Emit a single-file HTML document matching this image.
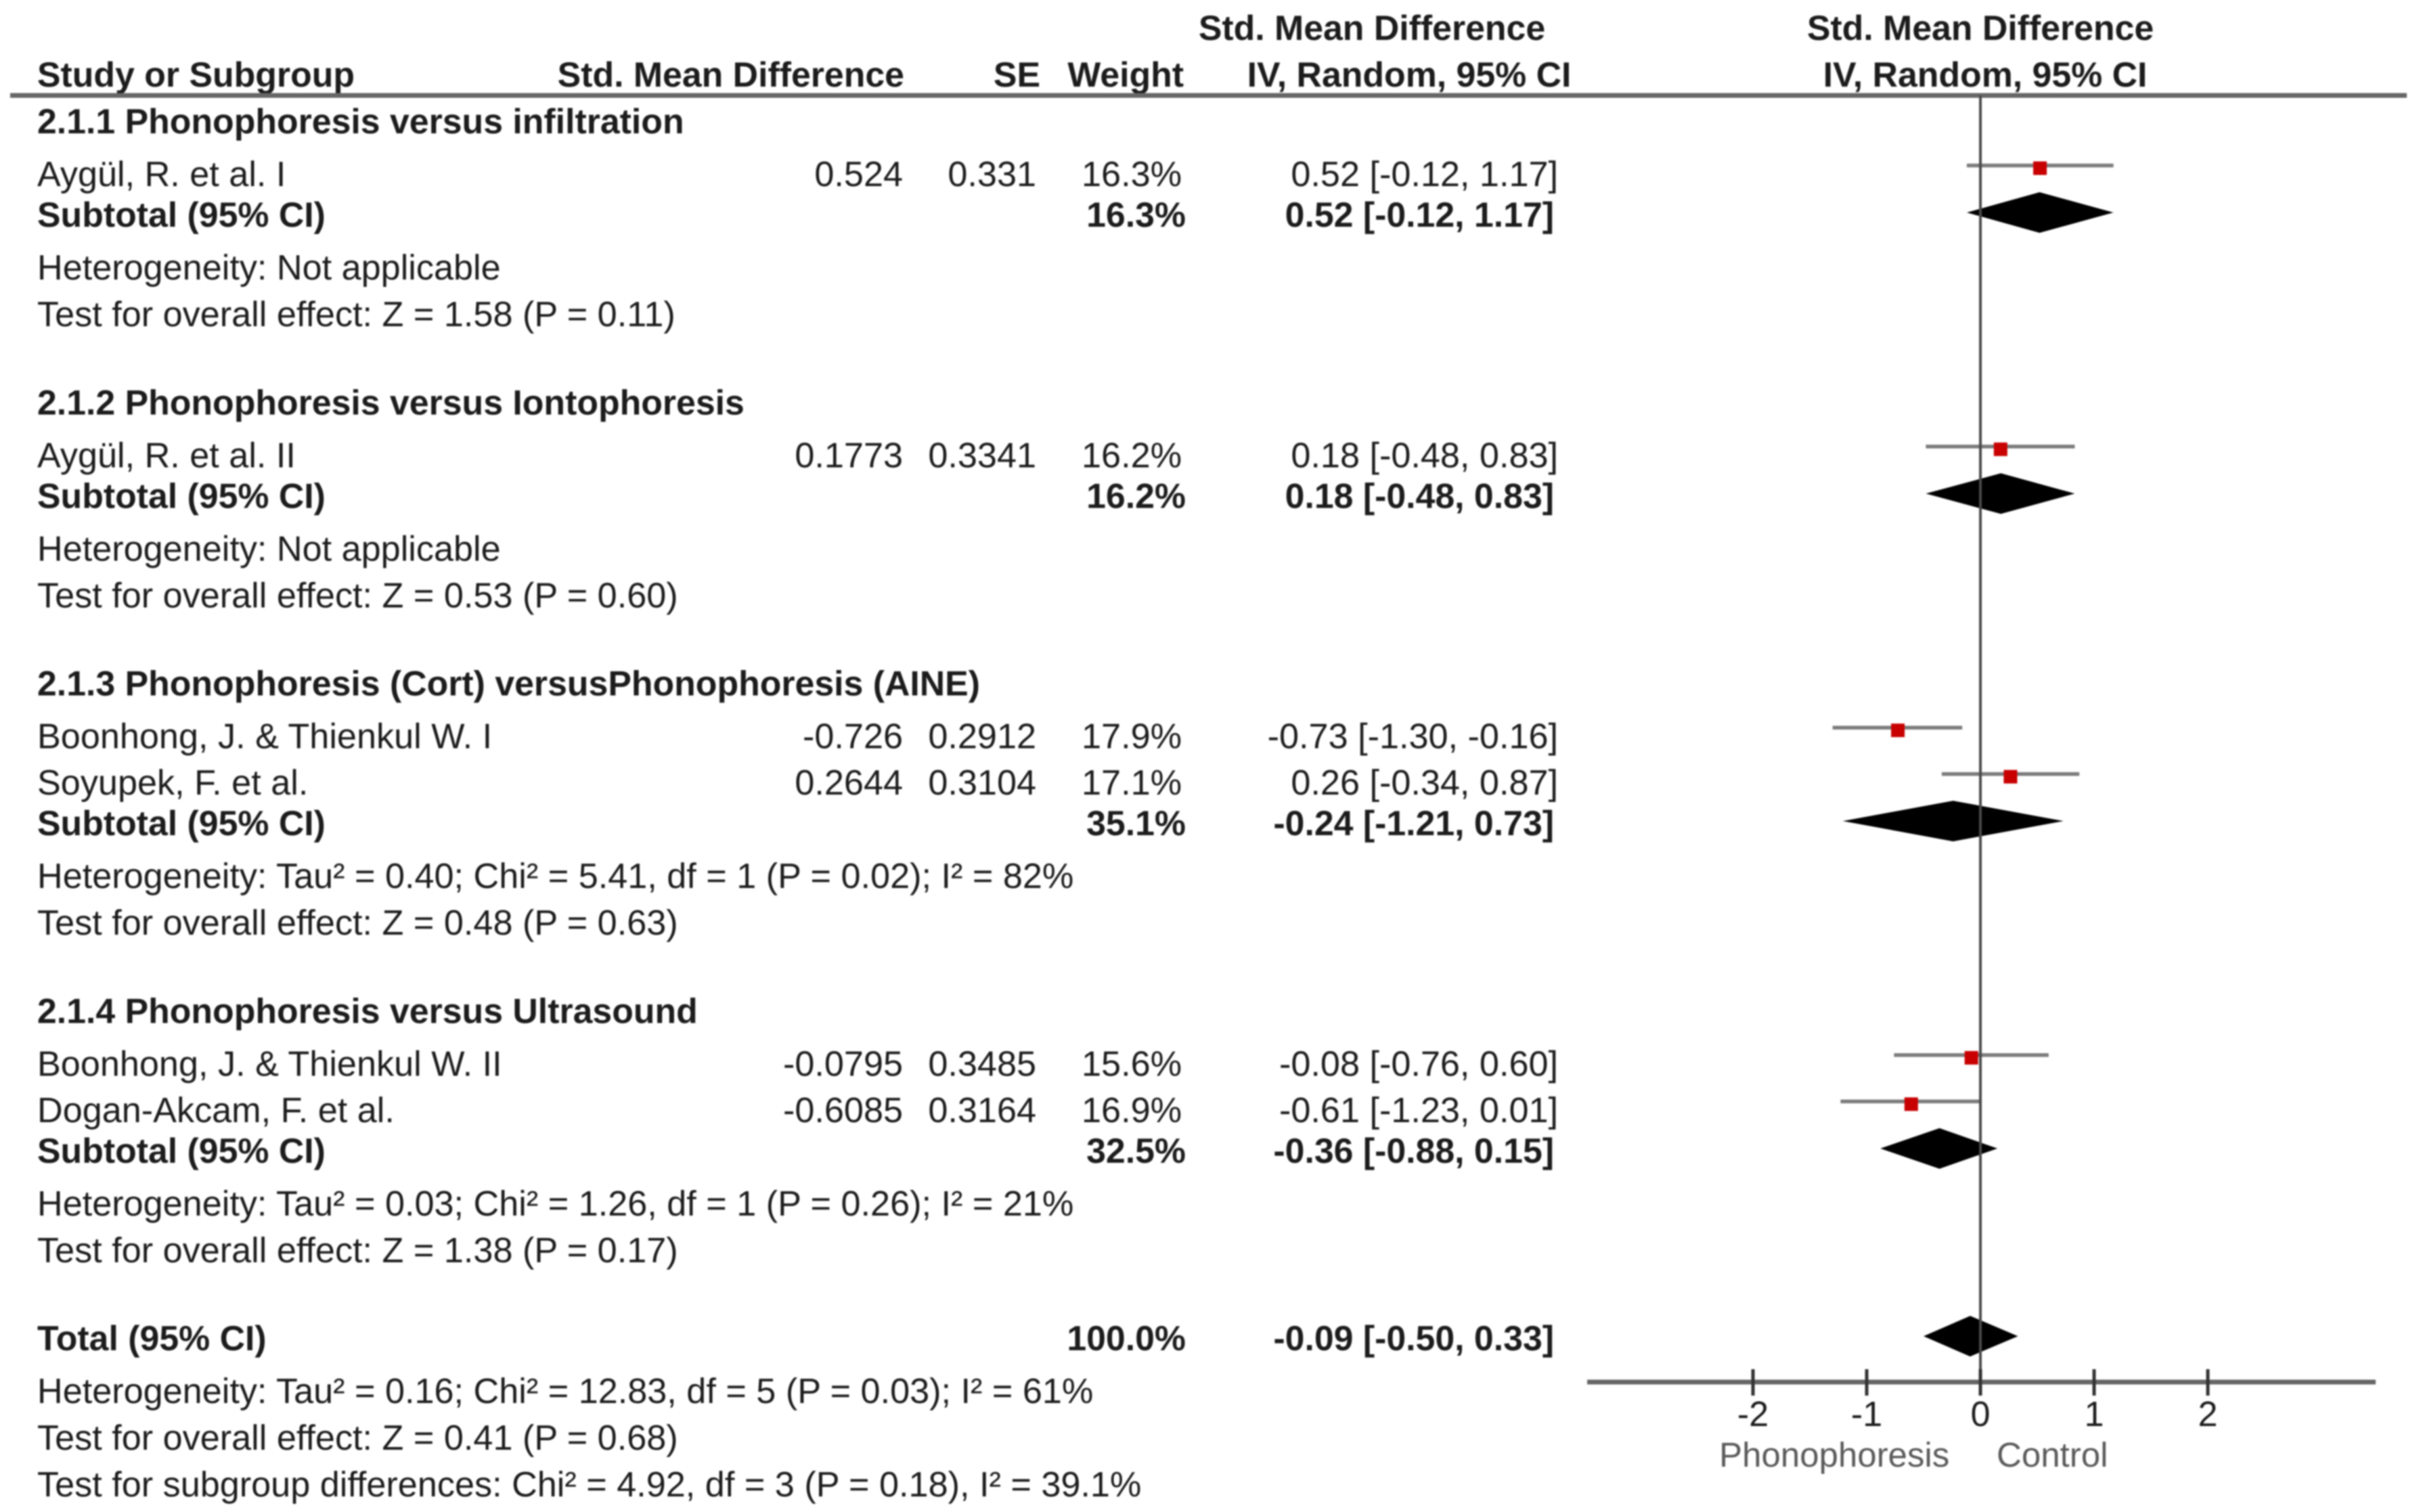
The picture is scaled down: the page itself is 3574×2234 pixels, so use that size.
<!DOCTYPE html>
<html lang="en">
<head>
<meta charset="utf-8">
<title>Forest plot</title>
<style>
html,body{margin:0;padding:0;background:#fff;width:3574px;height:2234px;overflow:hidden}
svg{display:block;filter:blur(1.1px)}
text{font-family:"Liberation Sans",sans-serif;font-size:52.2px;fill:#1c1c1c;text-rendering:geometricPrecision}
.b{font-weight:bold;font-size:51.8px}
.r{text-anchor:end}
.m{text-anchor:middle}
</style>
</head>
<body>
<svg id="forest" xmlns="http://www.w3.org/2000/svg" width="3574" height="2234" viewBox="0 0 3574 2234">
  <rect width="3574" height="2234" fill="#fff"/>
  <text class="b m" x="2027" y="59">Std. Mean Difference</text>
  <text class="b m" x="2926" y="59">Std. Mean Difference</text>
  <text class="b" x="55" y="128">Study or Subgroup</text>
  <text class="b r" x="1336" y="128">Std. Mean Difference</text>
  <text class="b r" x="1537" y="128">SE</text>
  <text class="b r" x="1749" y="128">Weight</text>
  <text class="b m" x="2082" y="128">IV, Random, 95% CI</text>
  <text class="b m" x="2933" y="128">IV, Random, 95% CI</text>
  <line x1="15" x2="3556" y1="141" y2="141" stroke="#666" stroke-width="7"/>
  <g id="plot"></g>
  <g id="table"></g>
</svg>
<script>
// ---- study data ----
const studyNames = ["Aygül, R. et al. I","Aygül, R. et al. II","Boonhong, J. & Thienkul W. I","Soyupek, F. et al.","Boonhong, J. & Thienkul W. II","Dogan-Akcam, F. et al."];
const studySmd = [0.524,0.1773,-0.726,0.2644,-0.0795,-0.6085];
const studySe = [0.331,0.3341,0.2912,0.3104,0.3485,0.3164];
const studyWeight = [16.3,16.2,17.9,17.1,15.6,16.9];
const studyLow = [-0.12,-0.48,-1.30,-0.34,-0.76,-1.23];
const studyHigh = [1.17,0.83,-0.16,0.87,0.60,0.01];
// ---- subgroup data ----
const groupTitles = ["2.1.1 Phonophoresis versus infiltration","2.1.2 Phonophoresis versus Iontophoresis","2.1.3 Phonophoresis (Cort) versusPhonophoresis (AINE)","2.1.4 Phonophoresis versus Ultrasound"];
const groupStudyCounts = [1,1,2,2];
const groupWeight = [16.3,16.2,35.1,32.5];
const groupEst = [0.52,0.18,-0.24,-0.36];
const groupLow = [-0.12,-0.48,-1.21,-0.88];
const groupHigh = [1.17,0.83,0.73,0.15];
const groupHet = ["Heterogeneity: Not applicable","Heterogeneity: Not applicable","Heterogeneity: Tau² = 0.40; Chi² = 5.41, df = 1 (P = 0.02); I² = 82%","Heterogeneity: Tau² = 0.03; Chi² = 1.26, df = 1 (P = 0.26); I² = 21%"];
const groupTest = ["Test for overall effect: Z = 1.58 (P = 0.11)","Test for overall effect: Z = 0.53 (P = 0.60)","Test for overall effect: Z = 0.48 (P = 0.63)","Test for overall effect: Z = 1.38 (P = 0.17)"];
// ---- total data ----
const totalWeight = 100.0;
const totalEst = -0.09;
const totalLow = -0.50;
const totalHigh = 0.33;
const totalNotes = ["Heterogeneity: Tau² = 0.16; Chi² = 12.83, df = 5 (P = 0.03); I² = 61%","Test for overall effect: Z = 0.41 (P = 0.68)","Test for subgroup differences: Chi² = 4.92, df = 3 (P = 0.18), I² = 39.1%"];
// ---- axis data ----
const xTicks = [-2,-1,0,1,2];
const axisLabels = ["Phonophoresis","Control"];

const NS = "http://www.w3.org/2000/svg";
const table = document.getElementById("table");
const plot = document.getElementById("plot");
function xScale(v){ return 2926 + 168 * v; }
function make(tag, parent, attrs){
  const el = document.createElementNS(NS, tag);
  for (const k in attrs) el.setAttribute(k, attrs[k]);
  parent.appendChild(el);
  return el;
}
function label(str, x, y, cls){
  const el = make("text", table, {x:x, y:y, class:cls||""});
  el.textContent = str;
  return el;
}
function ciText(est, lo, hi){ return est.toFixed(2) + " [" + lo.toFixed(2) + ", " + hi.toFixed(2) + "]"; }
function diamond(est, lo, hi, base){
  const cy = base - 21;
  const el = make("polygon", plot, {
    points: xScale(lo)+","+cy+" "+xScale(est)+","+(cy-30)+" "+xScale(hi)+","+cy+" "+xScale(est)+","+(cy+30),
    fill: "#000"
  });
  return el;
}

let y = 197, s = 0;
groupTitles.forEach(function(title, g){
  const h = label(title, 55, y, "b");
  
  
  y += 78;
  for (let i = 0; i < groupStudyCounts[g]; i++, s++) {
    if (i) y += 68.5;
    const n = label(studyNames[s], 55, y);
    
    
    const a = label(String(studySmd[s]), 1334, y, "r");
    
    
    const b = label(String(studySe[s]), 1531, y, "r");
    
    
    const c = label(studyWeight[s].toFixed(1) + "%", 1746, y, "r");
    
    
    const d = label(ciText(studySmd[s], studyLow[s], studyHigh[s]), 2302, y, "r");
    
    
    const ln = make("line", plot, {x1:xScale(studyLow[s]), x2:xScale(studyHigh[s]), y1:y-30.5, y2:y-30.5, stroke:"#7c7c7c", "stroke-width":5.5});
    
    
    const sq = make("rect", plot, {x:xScale(studySmd[s])-10, y:y-36.5, width:20, height:20, fill:"#c80000"});
    
    
  }
  y += 60;
  const st = label("Subtotal (95% CI)", 55, y, "b");
  
  
  const sw = label(groupWeight[g].toFixed(1) + "%", 1752, y, "b r");
  
  
  const sc = label(ciText(groupEst[g], groupLow[g], groupHigh[g]), 2296, y, "b r");
  
  
  const dm = diamond(groupEst[g], groupLow[g], groupHigh[g], y);
  
  
  y += 78;
  const he = label(groupHet[g], 55, y);
  
  
  y += 69;
  const te = label(groupTest[g], 55, y);
  
  
  y += 130.3;
});

const tl = label("Total (95% CI)", 55, y, "b");


const tw = label(totalWeight.toFixed(1) + "%", 1752, y, "b r");


const tc = label(ciText(totalEst, totalLow, totalHigh), 2296, y, "b r");


const td = diamond(totalEst, totalLow, totalHigh, y);


y += 78;
totalNotes.forEach(function(note, i){
  if (i) y += 69;
  const t = label(note, 55, y);
  
  
});

// axis
const axisY = 2042;
const axisLine = make("line", plot, {x1:2345, x2:3510, y1:axisY, y2:axisY, stroke:"#666", "stroke-width":7});


const zero = make("line", plot, {x1:xScale(0), x2:xScale(0), y1:141, y2:2062, stroke:"#4a4a4a", "stroke-width":4});


xTicks.forEach(function(v){
  const t = make("line", plot, {x1:xScale(v), x2:xScale(v), y1:2023, y2:2062, stroke:"#333", "stroke-width":5});
  
  
  const l = label(String(v), xScale(v), 2107, "m");
  
  
});
const left = label(axisLabels[0], 2540, 2167);


left.style.fill = "#5a5a5a";
left.style.fontSize = "51px";
const right = label(axisLabels[1], 2950, 2167);


right.style.fill = "#5a5a5a";
right.style.fontSize = "51px";
</script>
</body>
</html>
